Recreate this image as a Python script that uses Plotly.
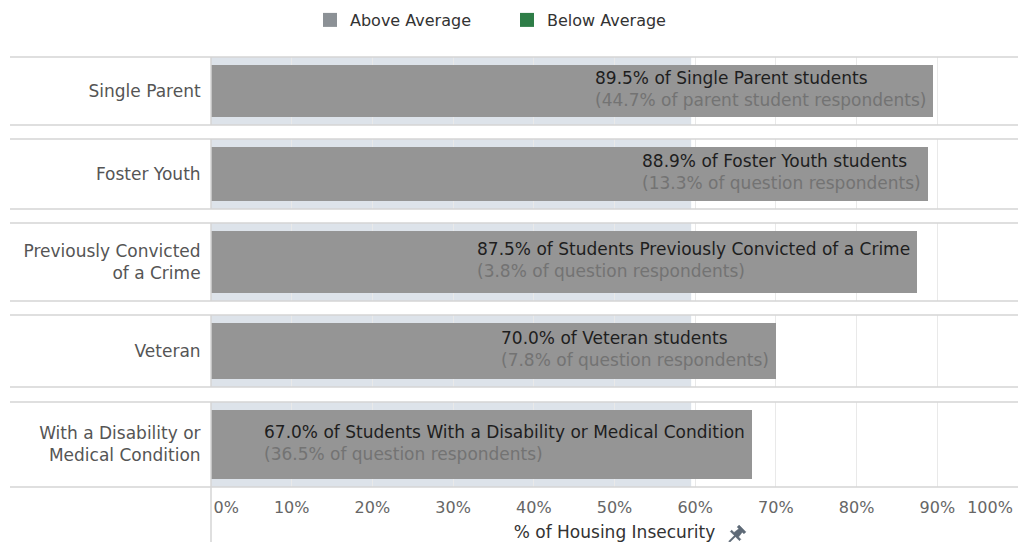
import math
import plotly.graph_objects as go
from plotly.subplots import make_subplots

# ---------------- data ----------------
CATEGORIES = [
    "Single Parent",
    "Foster Youth",
    "Previously Convicted<br>of a Crime",
    "Veteran",
    "With a Disability or<br>Medical Condition",
]
RATES = [0.895, 0.889, 0.875, 0.700, 0.670]
GROUP_PHRASES = [
    "of Single Parent students",
    "of Foster Youth students",
    "of Students Previously Convicted of a Crime",
    "of Veteran students",
    "of Students With a Disability or Medical Condition",
]
SHARES = [0.447, 0.133, 0.038, 0.078, 0.365]
SHARE_BASES = [
    "of parent student respondents",
    "of question respondents",
    "of question respondents",
    "of question respondents",
    "of question respondents",
]
AVERAGE_BAND = 0.595
TICK_VALUES = [0, 0.1, 0.2, 0.3, 0.4, 0.5, 0.6, 0.7, 0.8, 0.9, 1.0]
TICK_LABELS = ["0%", "10%", "20%", "30%", "40%", "50%", "60%", "70%", "80%", "90%", "100%"]
LEGEND_NAMES = ["Above Average", "Below Average"]

# ---------------- style ----------------
FONT = "DejaVu Sans"
BAR_COLOR = "#959595"
BAND_COLOR = "#dde3ea"
LEGEND_COLORS = ["#8c9196", "#2e7d47"]
LINE_COLOR = "#d4d4d4"
W, H = 1018, 542
M_L, M_R, M_T, M_B = 211, 0, 57, 55
PLOT_W = W - M_L - M_R
PLOT_H = H - M_T - M_B
# panel pixel extents (top, bottom)
PANELS_PX = [(57, 125), (139, 209), (223, 301), (315, 387), (402, 487)]


def py(px):
    return (H - M_B - px) / PLOT_H


def pxx(px):
    return (px - M_L) / PLOT_W


n = len(CATEGORIES)
fig = make_subplots(rows=n, cols=1, shared_xaxes=True, vertical_spacing=0.02)

shapes = []
annotations = []
for i in range(n):
    r = i + 1
    sfx = "" if r == 1 else str(r)
    top, bot = PANELS_PX[i]
    h_px = bot - top
    fig.add_trace(
        go.Bar(
            x=[RATES[i]], y=[CATEGORIES[i]], orientation="h",
            marker=dict(color=BAR_COLOR, line=dict(width=0)),
            width=1 - 16 / h_px, showlegend=False, hoverinfo="skip",
        ),
        row=r, col=1,
    )
    fig.update_layout({
        f"yaxis{sfx}": dict(
            domain=[py(bot), py(top)], type="category", range=[-0.5, 0.5],
            showgrid=False, zeroline=False, showline=False, automargin=False,
            ticks="outside", ticklen=6, tickcolor="rgba(0,0,0,0)",
            tickfont=dict(family=FONT, size=17, color="#555555"),
            fixedrange=True,
        ),
        f"xaxis{sfx}": dict(
            range=[0, 1.0], showgrid=True, gridcolor="#e9e9e9", gridwidth=1,
            zeroline=False, showline=False, tickvals=TICK_VALUES, automargin=False,
            ticktext=TICK_LABELS, showticklabels=(r == n), fixedrange=True,
        ),
    })
    # average band
    shapes.append(dict(type="rect", xref=f"x{sfx}", yref=f"y{sfx} domain",
                       x0=0, x1=AVERAGE_BAND, y0=0, y1=1, fillcolor=BAND_COLOR,
                       line=dict(width=0), layer="below"))
    # panel top / bottom lines
    for yy in (0, 1):
        shapes.append(dict(type="line", xref="paper", yref=f"y{sfx} domain",
                           x0=pxx(10), x1=1, y0=yy, y1=yy,
                           line=dict(color=LINE_COLOR, width=1.5), layer="above"))
    # left vertical line
    shapes.append(dict(type="line", xref="paper", yref=f"y{sfx} domain",
                       x0=0, x1=0, y0=0, y1=1,
                       line=dict(color=LINE_COLOR, width=1.5), layer="above"))
    # bar text
    txt = (f"<span style='color:#1e1e1e'>{RATES[i]*100:.1f}% {GROUP_PHRASES[i]}</span><br>"
           f"<span style='color:#737373'>({SHARES[i]*100:.1f}% {SHARE_BASES[i]})</span>")
    annotations.append(dict(
        x=RATES[i], y=CATEGORIES[i], xref=f"x{sfx}", yref=f"y{sfx}",
        text=txt, showarrow=False, xanchor="right", yanchor="middle",
        align="left", xshift=-5, yshift=2,
        font=dict(family=FONT, size=17, color="#1e1e1e"),
    ))

# vertical line in the axis area
shapes.append(dict(type="line", xref="paper", yref="paper", x0=0, x1=0,
                   y0=py(H), y1=0, line=dict(color=LINE_COLOR, width=1.5)))

# pushpin icon next to axis title
def rot(pts, ang):
    c, s = math.cos(ang), math.sin(ang)
    return [(x * c - y * s, x * s + y * c) for x, y in pts]

pin = [(-0.8, -11), (0.8, -11), (0.8, -3), (6.5, -3), (6.5, -1), (3.2, -1), (2.4, 5),
       (4.8, 5), (4.8, 7.8), (-4.8, 7.8), (-4.8, 5), (-2.4, 5), (-3.2, -1), (-6.5, -1),
       (-6.5, -3), (-0.8, -3)]
pin = rot(pin, -math.pi / 4)
path = "M" + " L".join(f"{x:.2f},{y:.2f}" for x, y in pin) + " Z"
shapes.append(dict(type="path", path=path, xref="paper", yref="paper",
                   xsizemode="pixel", ysizemode="pixel",
                   xanchor=pxx(737), yanchor=py(534),
                   fillcolor="#5e6a77", line=dict(color="#5e6a77", width=0.5)))

# legend entries
for name, col in zip(LEGEND_NAMES, LEGEND_COLORS):
    fig.add_trace(go.Scatter(x=[None], y=[None], mode="markers", name=name,
                             marker=dict(symbol="square", size=14, color=col),
                             hoverinfo="skip"), row=1, col=1)

# bottom axis styling
last = "" if n == 1 else str(n)
ticktext = list(TICK_LABELS)
ticktext[0] = "\u00a0" * 6 + ticktext[0]
ticktext[-1] = ticktext[-1] + "\u00a0" * 11
fig.update_layout({
    f"xaxis{last}": dict(
        range=[0, 1.0], showgrid=True, gridcolor="#e9e9e9", zeroline=False,
        tickvals=TICK_VALUES, ticktext=ticktext, showticklabels=True,
        ticks="outside", ticklen=6, tickcolor="rgba(0,0,0,0)",
        tickfont=dict(family=FONT, size=16, color="#666666"),
        ticklabeloverflow="allow",
        title=dict(text="% of Housing Insecurity", standoff=12,
                   font=dict(family=FONT, size=17, color="#333333")),
        fixedrange=True, automargin=False,
    )
})

fig.update_layout(
    width=W, height=H,
    margin=dict(l=M_L, r=M_R, t=M_T, b=M_B, autoexpand=False),
    paper_bgcolor="white", plot_bgcolor="white",
    shapes=shapes, annotations=annotations,
    showlegend=True,
    legend=dict(orientation="h", x=pxx(310), xanchor="left",
                y=py(20), yanchor="middle", font=dict(family=FONT, size=16, color="#333333"),
                itemwidth=30, entrywidth=152, bgcolor="rgba(0,0,0,0)"),
    font=dict(family=FONT),
    bargap=0,
)

fig.write_html(
    "out.html",
    config={"displayModeBar": False, "staticPlot": False},
    post_script="document.body.style.margin='0px';document.body.style.overflow='hidden';",
)
